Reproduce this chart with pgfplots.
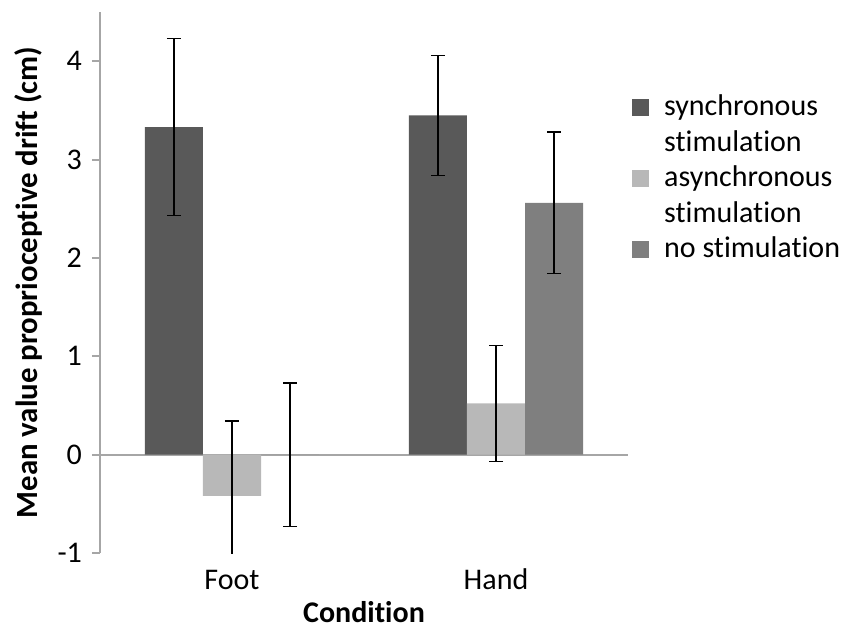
\documentclass[border=0pt]{standalone}
\usepackage{fontspec}
\setmainfont{Carlito}[Ligatures=CommonOff]
\usepackage{pgfplots}
\pgfplotsset{compat=1.18}
\usepackage{pgfplotstable}
\definecolor{syncc}{HTML}{595959}
\definecolor{asyncc}{HTML}{B8B8B8}
\definecolor{noc}{HTML}{7F7F7F}
\definecolor{axisc}{HTML}{A6A6A6}

% x = group position (1 = Foot, 2 = Hand) plus bar offset
\pgfplotstableread{
x y err
0.78 3.33 0.90
1.78 3.45 0.61
}\sync
\pgfplotstableread{
x y err
1.00 -0.42 0.76
2.00 0.52 0.59
}\async
\pgfplotstableread{
x y err
1.22 0.00 0.73
2.22 2.56 0.72
}\nostim

\begin{document}
\begin{tikzpicture}
\begin{axis}[
  at={(0,0)}, anchor=south west,
  width=264pt, height=270.5pt, scale only axis,
  xmin=0.5, xmax=2.5, ymin=-1, ymax=4.5,
  axis y line*=left, axis x line*=bottom,
  x axis line style={draw=none},
  y axis line style={axisc, line width=1pt},
  xtick={1,2}, xticklabels={Foot,Hand},
  major x tick style={draw=none},
  ytick={-1,0,1,2,3,4},
  tick align=outside,
  major tick length=4pt,
  major y tick style={axisc, line width=1pt},
  /pgf/number format/assume math mode=true,
  tick label style={font=\fontsize{15}{18}\selectfont, black},
  xticklabel style={yshift=0.5pt, text height=11pt, text depth=0pt},
  yticklabel style={xshift=-1.5pt},
  xlabel={\bfseries Condition},
  xlabel style={font=\fontsize{15}{18}\selectfont,
    at={(axis description cs:0.5,0)}, anchor=base, yshift=-34.5pt},
  ylabel={\bfseries Mean value proprioceptive drift (cm)},
  ylabel style={font=\fontsize{15.4}{18}\selectfont,
    at={(axis description cs:0,0.5)}, anchor=center, yshift=35.75pt},
  legend style={at={(1.0076,0.85)}, anchor=north west, draw=none, fill=none,
    inner sep=0pt, row sep=3.75pt,
    font=\fontsize{15}{18}\selectfont,
    nodes={text height=11pt, text depth=3pt, inner sep=0pt},
    cells={anchor=west}},
  legend cell align=left,
]
\addlegendimage{legend image code/.code={\fill[syncc] (0pt,-4pt) rectangle (8pt,4pt);}}
\addlegendentry{\hspace{7.5pt}synchronous}
\addlegendimage{empty legend}
\addlegendentry{\hspace{7.5pt}stimulation}
\addlegendimage{legend image code/.code={\fill[asyncc] (0pt,-4pt) rectangle (8pt,4pt);}}
\addlegendentry{\hspace{7.5pt}asynchronous}
\addlegendimage{empty legend}
\addlegendentry{\hspace{7.5pt}stimulation}
\addlegendimage{legend image code/.code={\fill[noc] (0pt,-4pt) rectangle (8pt,4pt);}}
\addlegendentry{\hspace{7.5pt}no stimulation}

\addplot[forget plot, axisc, line width=1pt] coordinates {(0.5,0) (2.5,0)};

\addplot[forget plot, ybar, bar width=0.22, bar shift=0, fill=syncc, draw=none,
  error bars/.cd, y dir=both, y explicit,
  error bar style={black, line width=0.75pt},
  error mark options={rotate=90, black, mark size=3.5pt, line width=0.75pt}]
  table[x=x, y=y, y error=err]{\sync};
\addplot[forget plot, ybar, bar width=0.22, bar shift=0, fill=asyncc, draw=none,
  error bars/.cd, y dir=both, y explicit,
  error bar style={black, line width=0.75pt},
  error mark options={rotate=90, black, mark size=3.5pt, line width=0.75pt}]
  table[x=x, y=y, y error=err]{\async};
\addplot[forget plot, ybar, bar width=0.22, bar shift=0, fill=noc, draw=none,
  error bars/.cd, y dir=both, y explicit,
  error bar style={black, line width=0.75pt},
  error mark options={rotate=90, black, mark size=3.5pt, line width=0.75pt}]
  table[x=x, y=y, y error=err]{\nostim};
\end{axis}
\pgfresetboundingbox
\path (-50pt,-36.5pt) rectangle (378pt,276.5pt);
\end{tikzpicture}
\end{document}
